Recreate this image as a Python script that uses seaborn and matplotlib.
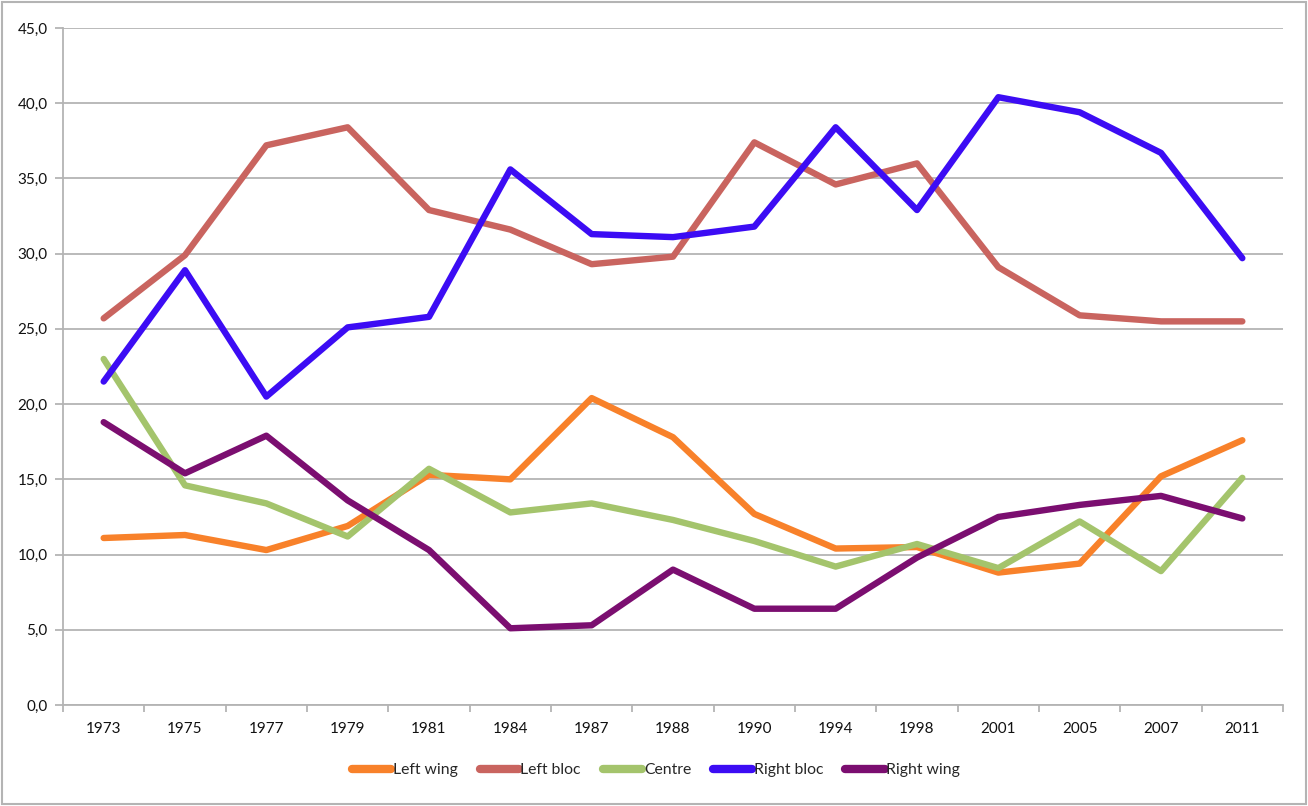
import matplotlib
matplotlib.use("Agg")
import matplotlib.pyplot as plt
import pandas as pd
import seaborn as sns
from matplotlib.patches import Rectangle
from matplotlib.ticker import FixedLocator, FuncFormatter

YEARS = ["1973", "1975", "1977", "1979", "1981", "1984", "1987", "1988",
         "1990", "1994", "1998", "2001", "2005", "2007", "2011"]

LEFT_WING = [11.1, 11.3, 10.3, 11.9, 15.3, 15.0, 20.4, 17.8, 12.7, 10.4, 10.5, 8.8, 9.4, 15.2, 17.6]
LEFT_BLOC = [25.7, 29.9, 37.2, 38.4, 32.9, 31.6, 29.3, 29.8, 37.4, 34.6, 36.0, 29.1, 25.9, 25.5, 25.5]
CENTRE = [23.0, 14.6, 13.4, 11.2, 15.7, 12.8, 13.4, 12.3, 10.9, 9.2, 10.7, 9.1, 12.2, 8.9, 15.1]
RIGHT_BLOC = [21.5, 28.9, 20.5, 25.1, 25.8, 35.6, 31.3, 31.1, 31.8, 38.4, 32.9, 40.4, 39.4, 36.7, 29.7]
RIGHT_WING = [18.8, 15.4, 17.9, 13.6, 10.3, 5.1, 5.3, 9.0, 6.4, 6.4, 9.8, 12.5, 13.3, 13.9, 12.4]

SERIES = {
    "Left wing": LEFT_WING,
    "Left bloc": LEFT_BLOC,
    "Centre": CENTRE,
    "Right bloc": RIGHT_BLOC,
    "Right wing": RIGHT_WING,
}
COLORS = {
    "Left wing": "#F8812A",
    "Left bloc": "#C9645F",
    "Centre": "#A4C46C",
    "Right bloc": "#3C0CF4",
    "Right wing": "#7B0E70",
}

rows = []
for name, vals in SERIES.items():
    for yr, v in zip(YEARS, vals):
        rows.append({"year": yr, "value": v, "series": name})
df = pd.DataFrame(rows)

sns.set_style("white")
plt.rcParams["font.family"] = ["Lato", "DejaVu Sans"]

fig = plt.figure(figsize=(13.08, 8.06), dpi=100)
ax = fig.add_axes([63 / 1308, 1 - 705 / 806, 1220 / 1308, 677 / 806])

sns.lineplot(data=df, x="year", y="value", hue="series", palette=COLORS,
             hue_order=list(SERIES), linewidth=4.6, ax=ax, sort=False,
             solid_capstyle="round", solid_joinstyle="round")

ax.set_xlim(-0.5, len(YEARS) - 0.5)
ax.set_ylim(0, 45)
ax.yaxis.set_major_locator(FixedLocator([i * 5 for i in range(10)]))
ax.yaxis.set_major_formatter(FuncFormatter(lambda v, p: f"{v:.1f}".replace(".", ",")))
ax.grid(axis="y", color="#b4b4b4", linewidth=1.3)
ax.set_axisbelow(True)
ax.set_xlabel("")
ax.set_ylabel("")

for s in ["top", "right"]:
    ax.spines[s].set_visible(False)
for s in ["left", "bottom"]:
    ax.spines[s].set_color("#b4b4b4")
    ax.spines[s].set_linewidth(1.3)

ax.set_xticks(range(len(YEARS)))
ax.set_xticklabels(YEARS)
ax.xaxis.set_minor_locator(FixedLocator([i - 0.5 for i in range(len(YEARS) + 1)]))
ax.tick_params(axis="x", which="major", length=0, pad=12, labelsize=11, labelcolor="#111111")
ax.tick_params(axis="x", which="minor", length=5, color="#b4b4b4", width=1.3, bottom=True)
ax.tick_params(axis="y", which="major", length=6, color="#b4b4b4", width=1.3, left=True,
               pad=5, labelsize=11, labelcolor="#111111")

leg = ax.legend(loc="center", bbox_to_anchor=(656 / 1308, 1 - 770 / 806),
                bbox_transform=fig.transFigure, ncol=5, frameon=False,
                handlelength=2.5, handletextpad=0.1, columnspacing=1.4, fontsize=11.3)
for line in leg.get_lines():
    line.set_linewidth(6)
    line.set_solid_capstyle("round")

fig.patches.append(Rectangle((2 / 1308, 2 / 806), 1 - 4 / 1308, 1 - 4 / 806,
                             transform=fig.transFigure, fill=False,
                             edgecolor="#b4b4b4", linewidth=1.5))

fig.savefig("out.png", dpi=100)
